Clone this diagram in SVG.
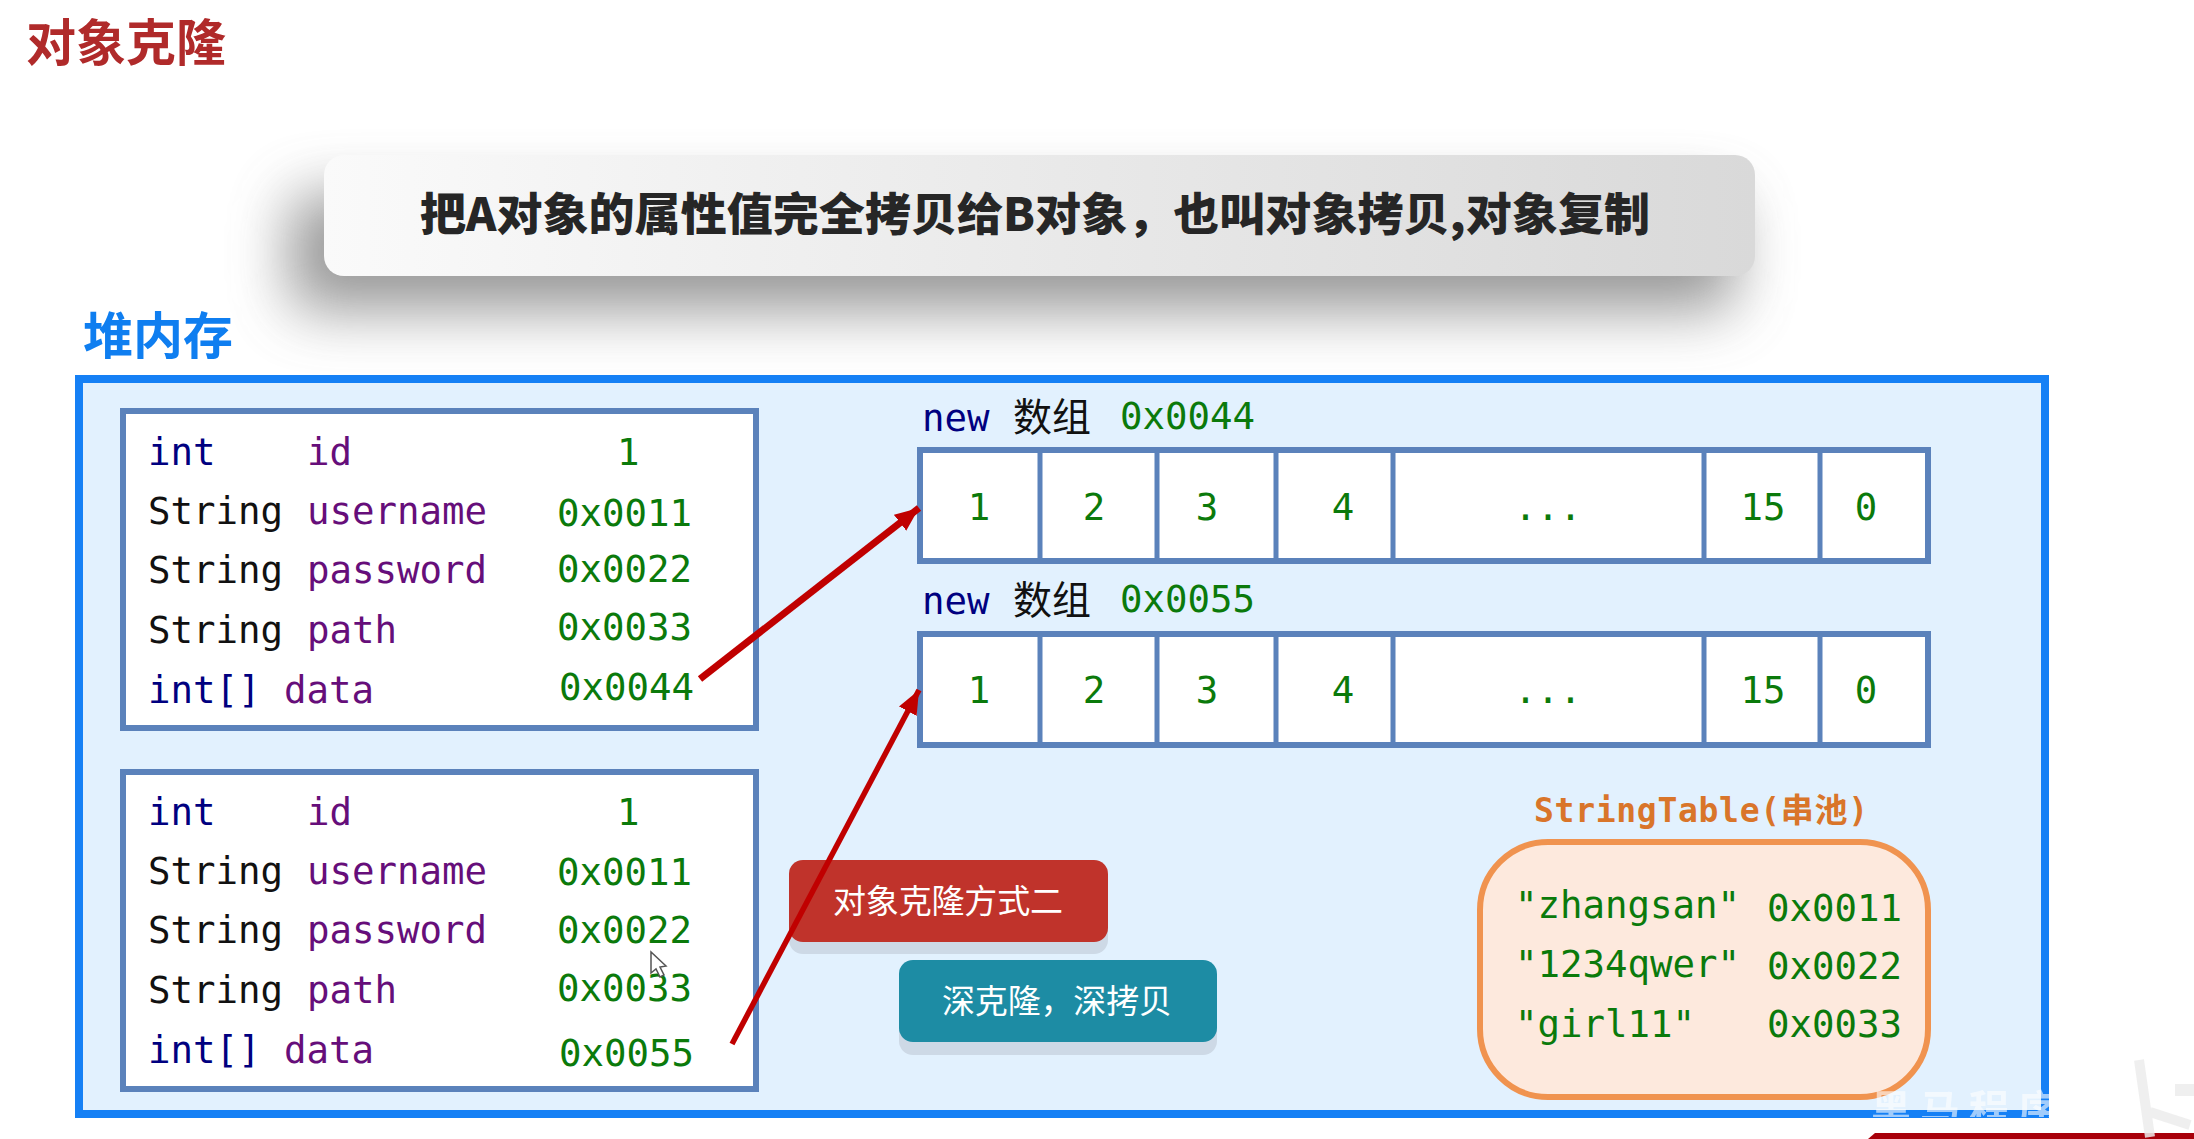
<svg xmlns="http://www.w3.org/2000/svg" width="2194" height="1139" viewBox="0 0 2194 1139">
<style>
text{font-family:"DejaVu Sans Mono","Liberation Mono","Noto Sans CJK SC",monospace;font-size:37.4px}
.cjk{font-family:"Noto Sans CJK SC","Noto Sans",sans-serif}
.k{fill:#000080}.s{fill:#111}.f{fill:#660e7a}.v{fill:#0b7a0b}
.box{fill:#fff;stroke:#5b82bb;stroke-width:6}
.div{stroke:#5b82bb;stroke-width:5}
.arrow{stroke:#c00000;fill:none}
.btn{font-size:33px;fill:#fff;text-anchor:middle}
</style>
<defs>
<filter id="blur" x="-20%" y="-80%" width="140%" height="260%"><feGaussianBlur stdDeviation="30"/></filter>
<linearGradient id="banner" x1="0" y1="0" x2="1" y2="0"><stop offset="0" stop-color="#fafafa"/><stop offset="1" stop-color="#d9d9d9"/></linearGradient>
<marker id="head" markerUnits="userSpaceOnUse" markerWidth="26" markerHeight="22" refX="24" refY="10" orient="auto"><path d="M0 0L24 10L0 20z" fill="#c00000"/></marker>
<clipPath id="wm"><rect x="1860" y="1080" width="189" height="37"/></clipPath>
</defs>
<rect width="2194" height="1139" fill="#fff"/>
<g id="title"><text class="cjk" x="26" y="61" style="font-size:50px;font-weight:700;fill:#b02a2a">对象克隆</text></g>
<g id="banner-node">
<rect x="290" y="195" width="1445" height="115" rx="20" fill="#666" opacity=".68" filter="url(#blur)"/>
<rect x="324" y="155" width="1431" height="121" rx="20" fill="url(#banner)"/>
<text class="cjk" x="420" y="231" style="font-size:45px;font-weight:900;fill:#262626" textLength="1230" lengthAdjust="spacingAndGlyphs">把A对象的属性值完全拷贝给B对象，也叫对象拷贝,对象复制</text>
</g>
<g id="heap">
<text class="cjk" x="83" y="354" style="font-size:50px;font-weight:700;fill:#0f7ef0">堆内存</text>
<rect x="79" y="379" width="1966" height="735" fill="#e2f1fe" stroke="#1580f5" stroke-width="8"/>
</g>
<g id="object-a">
<rect class="box" x="123" y="411" width="633" height="317"/>
<text class="k" x="148" y="465">int</text><text class="f" x="307" y="465">id</text><text class="v" x="617" y="465">1</text>
<text class="s" x="148" y="524">String</text><text class="f" x="307" y="524">username</text><text class="v" x="557" y="526">0x0011</text>
<text class="s" x="148" y="583">String</text><text class="f" x="307" y="583">password</text><text class="v" x="557" y="582">0x0022</text>
<text class="s" x="148" y="643">String</text><text class="f" x="307" y="643">path</text><text class="v" x="557" y="640">0x0033</text>
<text class="k" x="148" y="703">int[]</text><text class="f" x="284" y="703">data</text><text class="v" x="559" y="700">0x0044</text>
</g>
<g id="object-b">
<rect class="box" x="123" y="772" width="633" height="317"/>
<text class="k" x="148" y="825">int</text><text class="f" x="307" y="825">id</text><text class="v" x="617" y="825">1</text>
<text class="s" x="148" y="884">String</text><text class="f" x="307" y="884">username</text><text class="v" x="557" y="885">0x0011</text>
<text class="s" x="148" y="943">String</text><text class="f" x="307" y="943">password</text><text class="v" x="557" y="943">0x0022</text>
<text class="s" x="148" y="1003">String</text><text class="f" x="307" y="1003">path</text><text class="v" x="557" y="1001">0x0033</text>
<text class="k" x="148" y="1063">int[]</text><text class="f" x="284" y="1063">data</text><text class="v" x="559" y="1066">0x0055</text>
</g>
<g id="array-a">
<text class="k" x="922" y="431">new</text><text class="s cjk" x="1013" y="431" style="font-size:39px">数组</text><text class="v" x="1120" y="429">0x0044</text>
<rect class="box" x="920" y="450" width="1008" height="111"/>
<path class="div" d="M1040 450V561M1157 450V561M1276 450V561M1393 450V561M1704 450V561M1820 450V561"/>
<g class="v" text-anchor="middle"><text x="979" y="520">1</text><text x="1094" y="520">2</text><text x="1207" y="520">3</text><text x="1343" y="520">4</text><text x="1548" y="520">...</text><text x="1763" y="520">15</text><text x="1866" y="520">0</text></g>
</g>
<g id="array-b">
<text class="k" x="922" y="614">new</text><text class="s cjk" x="1013" y="614" style="font-size:39px">数组</text><text class="v" x="1120" y="612">0x0055</text>
<rect class="box" x="920" y="634" width="1008" height="111"/>
<path class="div" d="M1040 634V745M1157 634V745M1276 634V745M1393 634V745M1704 634V745M1820 634V745"/>
<g class="v" text-anchor="middle"><text x="979" y="703">1</text><text x="1094" y="703">2</text><text x="1207" y="703">3</text><text x="1343" y="703">4</text><text x="1548" y="703">...</text><text x="1763" y="703">15</text><text x="1866" y="703">0</text></g>
</g>
<g id="string-table">
<text x="1534" y="822" style="font-size:33px;font-weight:700;fill:#d9752a" textLength="334" lengthAdjust="spacing">StringTable(<tspan class="cjk">串池</tspan>)</text>
<rect x="1480" y="842" width="448" height="255" rx="68" fill="#fde9dd" stroke="#f0934f" stroke-width="6"/>
<text class="v" x="1515" y="918">"zhangsan"</text><text class="v" x="1767" y="921">0x0011</text>
<text class="v" x="1515" y="977">"1234qwer"</text><text class="v" x="1767" y="979">0x0022</text>
<text class="v" x="1515" y="1037">"girl11"</text><text class="v" x="1767" y="1037">0x0033</text>
</g>
<g id="btn-red">
<rect x="789" y="872" width="319" height="82" rx="14" fill="#cdd9e6"/>
<rect x="789" y="860" width="319" height="82" rx="14" fill="#c0332b"/>
</g>
<g id="btn-teal">
<rect x="899" y="973" width="318" height="82" rx="14" fill="#cdd9e6"/>
<rect x="899" y="960" width="318" height="82" rx="14" fill="#1d8ca4"/>
<text class="btn cjk" x="1057" y="1013" textLength="230">深克隆，深拷贝</text>
</g>
<g id="connectors">
<line class="arrow" x1="700" y1="679" x2="919" y2="508" stroke-width="7" marker-end="url(#head)"/>
<line class="arrow" x1="732" y1="1044" x2="919" y2="690" stroke-width="5.5" marker-end="url(#head)"/>
</g>
<text class="btn cjk" x="948" y="913" textLength="230">对象克隆方式二</text>
<path id="cursor" d="M651 952V973L656 969L660 977L664 975L660 967L666 966Z" fill="#fff" stroke="#555" stroke-width="1.5"/>
<g id="watermark" opacity=".6" clip-path="url(#wm)"><text class="cjk" x="1871" y="1124" style="font-size:40px;font-weight:700;fill:#fff;letter-spacing:9px">黑马程序</text></g>
<path id="bar" d="M1875 1133H2194V1139H1868Z" fill="#a8000a"/>
<path id="logo" d="M2139 1060L2150 1137M2150 1112L2190 1125M2180 1084V1096M2190 1084V1096" fill="none" stroke="#ececec" stroke-width="10" opacity=".85"/>
</svg>
